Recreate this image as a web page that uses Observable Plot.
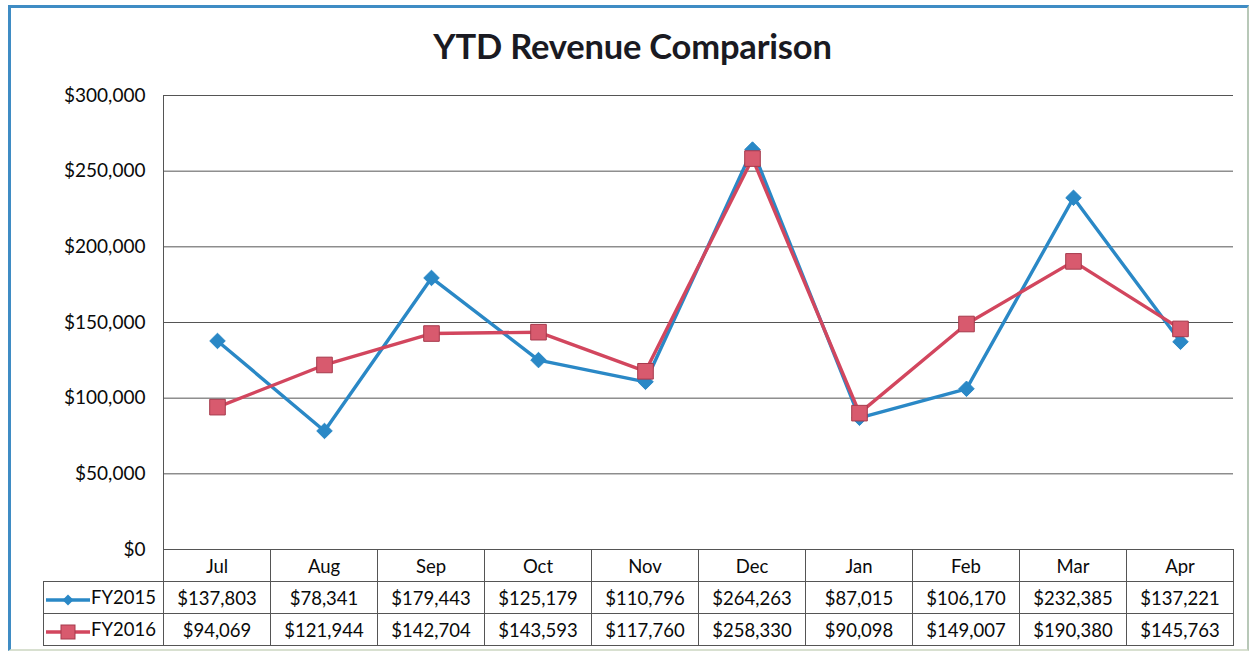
<!DOCTYPE html>
<html>
<head>
<meta charset="utf-8">
<script src="https://cdn.jsdelivr.net/npm/d3@7"></script>
<script src="https://cdn.jsdelivr.net/npm/@observablehq/plot@0.6"></script>
<style>
  html, body { margin: 0; padding: 0; background: #fff; }
  #wrap { position: relative; width: 1257px; height: 656px; overflow: hidden; background: #fff; font-family: Lato, "Open Sans", sans-serif; }
  #frame { position: absolute; left: 8px; top: 5px; width: 1241px; height: 646px; box-sizing: border-box;
    border-top: 3px solid #3f8cc4; border-left: 3px solid #3f8cc4; border-right: 2px solid #b8c8b8; border-bottom: 2px solid #d8e0d0; }
  #title { position: absolute; left: 4px; width: 1257px; top: 25px; text-align: center; font-weight: 700; font-size: 34.5px; color: #1a1a22; letter-spacing: -0.2px; }
  #chart { position: absolute; left: 0; top: 0; }
  #tbl { position: absolute; left: 43px; top: 549px; border-collapse: collapse; font-size: 18.5px; color: #0a0a0a; }
  #tbl td { border: 1px solid #555; text-align: center; padding: 0; height: 32px; box-sizing: border-box; }
  #tbl td.blank { border: none; border-right: 1px solid #555; border-top: none; }
  #tbl td.leg { text-align: left; white-space: nowrap; }
  #tbl td.leg svg { vertical-align: middle; margin-left: 2px; margin-right: 1px; }
</style>
</head>
<body>
<div id="wrap">
  <div id="frame"></div>
  <div id="chart"></div>
  <div id="title">YTD Revenue Comparison</div>
  <table id="tbl"></table>
</div>
<script>
const months = ["Jul","Aug","Sep","Oct","Nov","Dec","Jan","Feb","Mar","Apr"];
const fy2015 = [137803, 78341, 179443, 125179, 110796, 264263, 87015, 106170, 232385, 137221];
const fy2016 = [94069, 121944, 142704, 143593, 117760, 258330, 90098, 149007, 190380, 145763];
const yTicks = [0, 50000, 100000, 150000, 200000, 250000, 300000];
const seriesNames = ["FY2015", "FY2016"];

const blue = "#2a88c6";
const red = "#d2465e";
const redFill = "#d85a6e";
const redStroke = "#a63a4c";

const d15 = months.map((m, i) => ({month: m, value: fy2015[i]}));
const d16 = months.map((m, i) => ({month: m, value: fy2016[i]}));
const money = d => "$" + d3.format(",")(d);

const chart = Plot.plot({
  width: 1257,
  height: 560,
  marginTop: 95,
  marginBottom: 11,
  marginLeft: 163,
  marginRight: 24,
  style: {fontFamily: "Lato, 'Open Sans', sans-serif", fontSize: "19px", color: "#0a0a0a", background: "transparent"},
  x: {type: "point", domain: months, padding: 0.5, axis: null},
  y: {domain: [0, 300000], ticks: yTicks},
  marks: [
    Plot.gridY(yTicks, {stroke: "#555", strokeOpacity: 1, strokeWidth: 1}),
    Plot.frame({anchor: "left", stroke: "#555"}),
    Plot.axisY(yTicks, {tickSize: 0, tickPadding: 18, tickFormat: money, fontSize: 19, fill: "#0a0a0a", label: null}),
    Plot.line(d15, {x: "month", y: "value", stroke: blue, strokeWidth: 3.4}),
    Plot.dot(d15, {x: "month", y: "value", symbol: "diamond2", r: 7, fill: blue, stroke: blue, strokeWidth: 1}),
    Plot.line(d16, {x: "month", y: "value", stroke: red, strokeWidth: 3.4}),
    Plot.dot(d16, {x: "month", y: "value", symbol: "square", r: 8.8, fill: redFill, stroke: redStroke, strokeWidth: 1})
  ]
});
document.getElementById("chart").appendChild(chart);

// data table
const tbl = document.getElementById("tbl");
const colW = 107;
const header = document.createElement("tr");
const blank = document.createElement("td");
blank.className = "blank";
blank.style.width = "120px";
header.appendChild(blank);
months.forEach(m => {
  const td = document.createElement("td");
  td.style.width = colW + "px";
  td.textContent = m;
  header.appendChild(td);
});
tbl.appendChild(header);

function legendIcon(name) {
  const isBlue = name === "FY2015";
  const c = isBlue ? blue : red;
  const marker = isBlue
    ? `<path d="M22,3.5 L27.5,9 L22,14.5 L16.5,9 Z" fill="${blue}"/>`
    : `<rect x="15" y="2" width="14" height="14" fill="${redFill}" stroke="${redStroke}" stroke-width="1"/>`;
  return `<svg width="44" height="18" viewBox="0 0 44 18"><line x1="0" y1="9" x2="44" y2="9" stroke="${c}" stroke-width="3.5"/>${marker}</svg>`;
}

[fy2015, fy2016].forEach((vals, si) => {
  const tr = document.createElement("tr");
  const leg = document.createElement("td");
  leg.className = "leg";
  leg.innerHTML = legendIcon(seriesNames[si]) + `<span>${seriesNames[si]}</span>`;
  tr.appendChild(leg);
  vals.forEach(v => {
    const td = document.createElement("td");
    td.textContent = money(v);
    tr.appendChild(td);
  });
  tbl.appendChild(tr);
});
</script>
</body>
</html>
